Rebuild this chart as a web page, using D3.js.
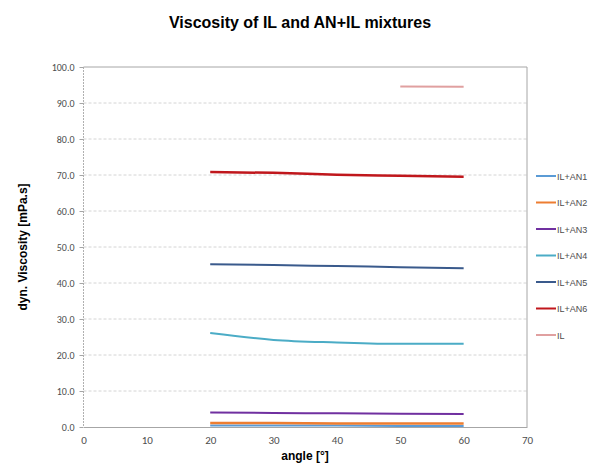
<!DOCTYPE html>
<html>
<head>
<meta charset="utf-8">
<script src="https://cdn.jsdelivr.net/npm/d3@7/dist/d3.min.js"></script>
<style>
body { margin: 0; background: #fff; }
text { font-family: "Liberation Sans", Arial, sans-serif; }
</style>
</head>
<body>
<script>
// angles measured
var angles = [20, 30, 40, 50, 60];

// viscosity values per mixture
var an1 = [0.4, 0.4, 0.4, 0.3, 0.3];
var an2 = [1.1, 1.1, 1.0, 1.0, 1.0];
var an3 = [4.0, 3.9, 3.8, 3.7, 3.6];
var an4 = [26.1, 24.2, 23.5, 23.1, 23.1];
var an5 = [45.2, 45.0, 44.7, 44.4, 44.1];
var an6 = [70.8, 70.6, 70.1, 69.8, 69.5];
var ilAngles = [50, 60];
var il = [94.6, 94.5];

var seriesNames = ["IL+AN1", "IL+AN2", "IL+AN3", "IL+AN4", "IL+AN5", "IL+AN6", "IL"];
var colors = ["#5b9bd5", "#ed7d31", "#7030a0", "#4bacc6", "#3a5a8c", "#c0171c", "#e0a0a0"];
var widths = [2, 2.5, 2, 2, 2, 2.5, 2];

var xTicks = [0, 10, 20, 30, 40, 50, 60, 70];
var yTicks = [0, 10, 20, 30, 40, 50, 60, 70, 80, 90, 100];

var series = [
  { name: "IL+AN1", x: angles, y: an1 },
  { name: "IL+AN2", x: angles, y: an2 },
  { name: "IL+AN3", x: angles, y: an3 },
  { name: "IL+AN4", x: angles, y: an4 },
  { name: "IL+AN5", x: angles, y: an5 },
  { name: "IL+AN6", x: angles, y: an6 },
  { name: "IL", x: ilAngles, y: il }
];

var svg = d3.select("body").append("svg")
  .attr("width", 609)
  .attr("height", 468);

var plotLeft = 83.5, plotRight = 527, plotTop = 67, plotBottom = 427;

var x = d3.scaleLinear().domain([0, 70]).range([plotLeft, plotRight]);
var y = d3.scaleLinear().domain([0, 100]).range([plotBottom, plotTop]);

// grid lines
svg.append("g").selectAll("line")
  .data(yTicks.slice(1, -1))
  .enter().append("line")
  .attr("x1", plotLeft).attr("x2", plotRight)
  .attr("y1", function(d) { return y(d); })
  .attr("y2", function(d) { return y(d); })
  .attr("stroke", "#d4d4d4")
  .attr("stroke-dasharray", "3,2");

// frame: top, right solid; left dotted
svg.append("line").attr("x1", plotLeft).attr("x2", plotRight).attr("y1", plotTop).attr("y2", plotTop)
  .attr("stroke", "#a6a6a6");
svg.append("line").attr("x1", plotRight).attr("x2", plotRight).attr("y1", plotTop).attr("y2", plotBottom)
  .attr("stroke", "#a6a6a6");
svg.append("line").attr("x1", plotLeft).attr("x2", plotLeft).attr("y1", plotTop).attr("y2", plotBottom)
  .attr("stroke", "#b0b0b0").attr("stroke-dasharray", "2,1");

// axes
var xAxis = svg.append("g")
  .attr("transform", "translate(0," + plotBottom + ")")
  .call(d3.axisBottom(x).tickValues(xTicks).tickSize(0).tickPadding(9));
var yAxis = svg.append("g")
  .attr("transform", "translate(" + plotLeft + ",0)")
  .call(d3.axisLeft(y).tickValues(yTicks).tickSize(4).tickPadding(5)
    .tickFormat(d3.format(".1f")));

[xAxis, yAxis].forEach(function(a) {
  a.select(".domain").attr("stroke", "#a6a6a6");
  a.selectAll(".tick line").attr("stroke", "#a6a6a6");
  a.selectAll("text").attr("fill", "#4d4d4d").style("font-family", "Calibri, Carlito, 'Liberation Sans', Arial, sans-serif");
});
xAxis.selectAll("text").style("font-size", "11px");
yAxis.selectAll("text").style("font-size", "10px");
yAxis.select(".domain").remove();

// lines
var line = d3.line()
  .x(function(d) { return x(d[0]); })
  .y(function(d) { return y(d[1]); })
  .curve(d3.curveMonotoneX);

svg.append("g").selectAll("path")
  .data(series)
  .enter().append("path")
  .attr("d", function(s) { return line(d3.zip(s.x, s.y)); })
  .attr("fill", "none")
  .attr("stroke", function(s, i) { return colors[i]; })
  .attr("stroke-width", function(s, i) { return widths[i]; });

// legend
var legend = svg.append("g").selectAll("g")
  .data(seriesNames)
  .enter().append("g")
  .attr("transform", function(d, i) { return "translate(536," + (176 + i * 26.5) + ")"; });
legend.append("line")
  .attr("x1", 0).attr("x2", 20)
  .attr("stroke", function(d, i) { return colors[i]; })
  .attr("stroke-width", 2);
legend.append("text")
  .attr("x", 21).attr("y", 3.5)
  .attr("fill", "#4d4d4d")
  .style("font-size", "9px")
  .text(function(d) { return d; });

// titles
svg.append("text")
  .attr("x", 300).attr("y", 28)
  .attr("text-anchor", "middle")
  .style("font-size", "16px").style("font-weight", "bold")
  .text("Viscosity of IL and AN+IL mixtures");

svg.append("text")
  .attr("x", 305).attr("y", 460)
  .attr("text-anchor", "middle")
  .style("font-size", "12px").style("font-weight", "bold")
  .text("angle [°]");

svg.append("text")
  .attr("transform", "translate(27,247) rotate(-90)")
  .attr("text-anchor", "middle")
  .style("font-size", "12px").style("font-weight", "bold")
  .text("dyn. Viscosity [mPa.s]");
</script>
</body>
</html>
